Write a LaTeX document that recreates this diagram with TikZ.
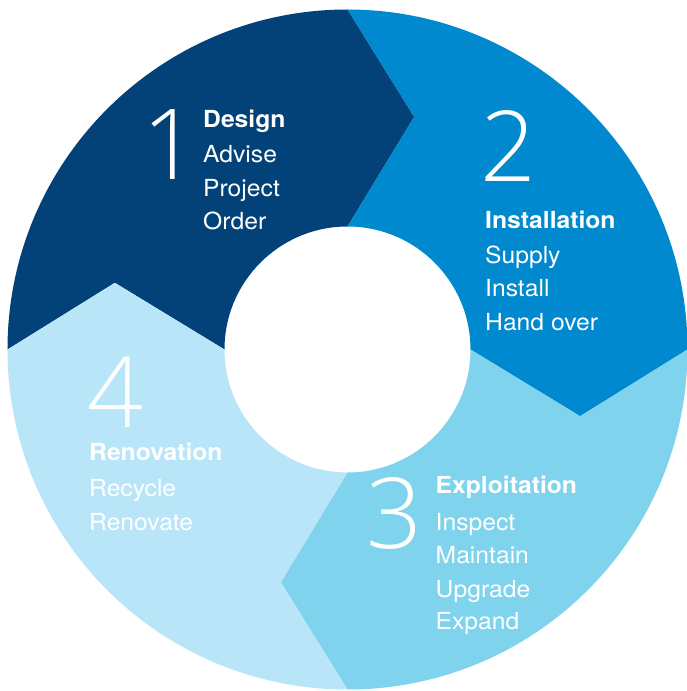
\documentclass[tikz,border=0pt]{standalone}
\usepackage{fontspec}
\setmainfont{TeX Gyre Heros}[FakeStretch=1.05]
\IfFontExistsTF{Open Sans Light}{\newfontfamily\digitfont{Open Sans Light}}{\newfontfamily\digitfont{TeX Gyre Heros}}
\definecolor{segA}{RGB}{3,66,120}
\definecolor{segB}{RGB}{0,137,207}
\definecolor{segC}{RGB}{127,211,236}
\definecolor{segD}{RGB}{185,229,249}
\tikzset{
  txt/.style={anchor=base west, inner sep=0pt, text=white, font=\fontsize{23.5}{23.5}\selectfont},
  head/.style={txt, font=\fontsize{23.5}{23.5}\selectfont\bfseries},
  digit/.style={anchor=base, inner sep=0pt, text=white, text height=70pt, text depth=0pt, font=\digitfont\fontsize{98}{98}\selectfont},
}
\newcommand\segpath[2]{(#1:340) arc[start angle=#1, end angle=#2, radius=340] -- (#2-16:242) -- (#2:123) arc[start angle=#2, end angle=#1, radius=123] -- (#1-16:242) -- cycle}
\begin{document}
\begin{tikzpicture}[x=1pt,y=1pt]
\useasboundingbox (-347.5,-341.5) rectangle (339.5,349.5);
\fill[white] (-347.5,-341.5) rectangle (339.5,349.5);
\fill[segA] \segpath{180}{90};
\fill[segB] \segpath{90}{0};
\fill[segC] \segpath{0}{-90};
\fill[segD] \segpath{-90}{-180};
% segment 1
\node[digit] (n1) at (-177.5,169.5) {1};
\node[head] (t1a) at (-144.5,222) {Design};
\node[txt] (t1b) at (-144.5,186.5) {Advise};
\node[txt] (t1c) at (-144.5,153) {Project};
\node[txt] (t1d) at (-144.5,120) {Order};
% segment 2
\node[digit] (n2) at (161,167.5) {2};
\node[head] (t2a) at (137.5,121) {Installation};
\node[txt] (t2b) at (137.5,85.5) {Supply};
\node[txt] (t2c) at (137.5,52.5) {Install};
\node[txt] (t2d) at (137.5,19.5) {Hand over};
% segment 3
\node[digit] (n3) at (46.5,-199) {3};
\node[head] (t3a) at (88,-144) {Exploitation};
\node[txt] (t3b) at (88,-180.5) {Inspect};
\node[txt] (t3c) at (88,-213.5) {Maintain};
\node[txt] (t3d) at (88,-247.5) {Upgrade};
\node[txt] (t3e) at (88,-280) {Expand};
% segment 4
\node[digit] (n4) at (-232,-78) {4};
\node[head] (t4a) at (-258.5,-110.5) {Renovation};
\node[txt] (t4b) at (-258.5,-147) {Recycle};
\node[txt] (t4c) at (-258.5,-180.5) {Renovate};
\end{tikzpicture}
\end{document}
